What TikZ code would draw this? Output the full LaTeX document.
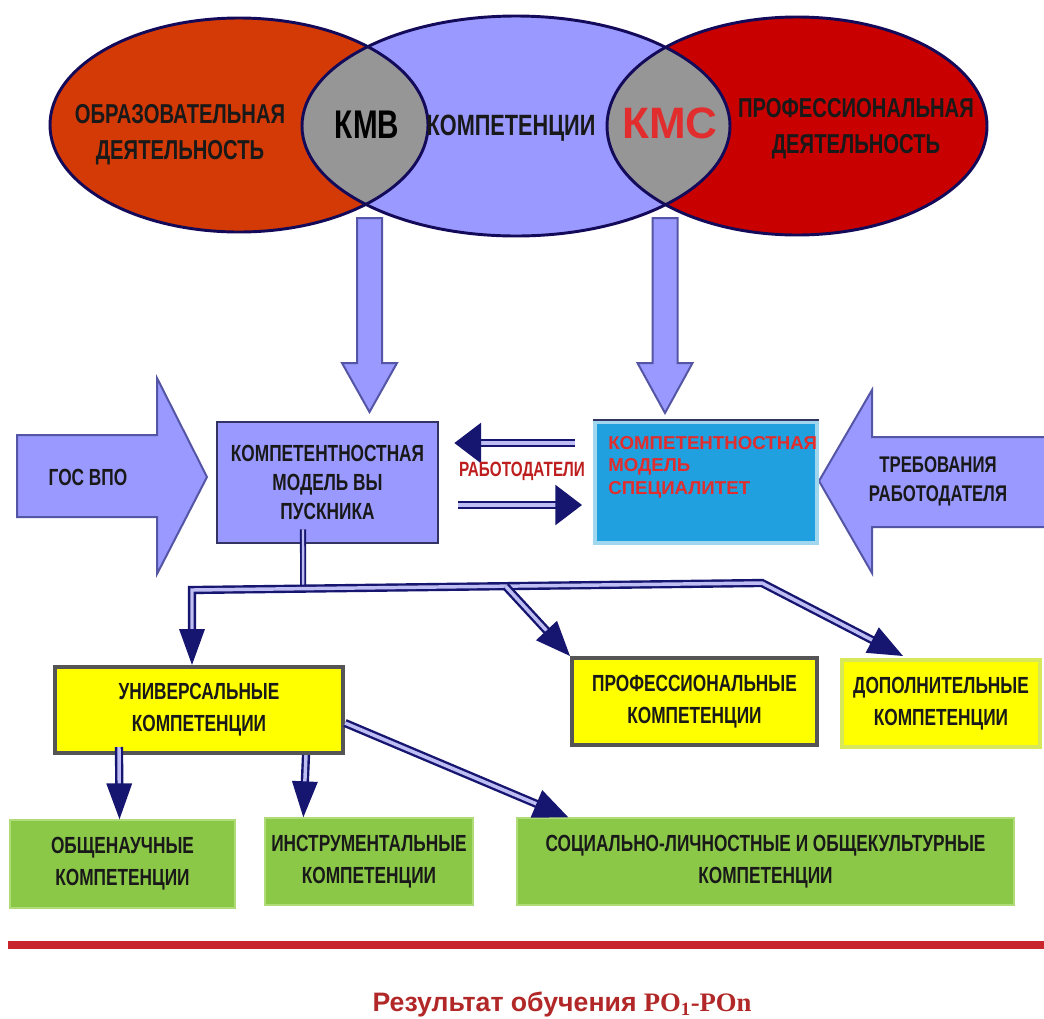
\documentclass[tikz,border=0pt]{standalone}
\usepackage{fontspec}
\setmainfont{Liberation Sans}
\newfontfamily\narrowsf{Liberation Sans}[FakeStretch=0.74]
\newfontfamily\poserif{Liberation Serif}
\usetikzlibrary{arrows.meta,calc}

\definecolor{navyc}{RGB}{22,22,112}
\definecolor{raillav}{RGB}{190,190,245}
\definecolor{lav}{RGB}{153,153,255}
\definecolor{lavedge}{RGB}{85,85,165}
\definecolor{eduorange}{RGB}{212,58,6}
\definecolor{prored}{RGB}{200,0,0}
\definecolor{lensgray}{RGB}{150,150,150}
\definecolor{ellline}{RGB}{20,10,90}
\definecolor{kmsblue}{RGB}{32,160,222}
\definecolor{kmsedge}{RGB}{160,215,238}
\definecolor{yelbox}{RGB}{255,255,0}
\definecolor{yeledge}{RGB}{85,85,85}
\definecolor{dopedge}{RGB}{215,232,90}
\definecolor{grbox}{RGB}{140,200,72}
\definecolor{gredge}{RGB}{175,220,120}
\definecolor{redrule}{RGB}{200,38,44}
\definecolor{txtdark}{RGB}{25,25,25}
\definecolor{rabred}{RGB}{190,30,30}
\definecolor{kmsred}{RGB}{225,45,45}
\definecolor{resred}{RGB}{178,40,40}

\tikzset{
	lbl/.style={font=\narrowsf\bfseries\fontsize{17.5}{24}\selectfont, text=txtdark, align=center, inner sep=0pt},
	kmvbox/.style={lbl, rectangle, fill=lav, draw=lavedge!60!black, line width=2pt, font=\narrowsf\bfseries\fontsize{17.5}{22}\selectfont},
	kmsbox/.style={rectangle, fill=kmsblue, draw=kmsedge, line width=3pt, inner sep=0pt},
	ybox/.style={lbl, rectangle, fill=yelbox, draw=yeledge, line width=3pt},
	gbox/.style={lbl, rectangle, fill=grbox, draw=gredge, line width=1pt},
	rail/.style={draw=navyc, double=raillav, double distance=2.6pt, line width=1.8pt},
	bigtip/.style={-{Triangle[length=20pt,width=30pt]}},
	longtip/.style={-{Triangle[length=27pt,width=19pt]}},
	blockarr/.style={fill=lav, draw=lavedge, line width=1.5pt, line join=miter},
	ellline/.style={draw=ellline, line width=2.2pt}
}

\begin{document}
\begin{tikzpicture}[x=0.75pt,y=-0.75pt]
	\useasboundingbox[fill=white] (0,0) rectangle (1044,1018);
	
	% three fields
	\fill[eduorange] (239,125) ellipse [x radius=189, y radius=107];
	\fill[prored]    (797,126) ellipse [x radius=190, y radius=109];
	\fill[lav]       (516,126) ellipse [x radius=214, y radius=110];
	\begin{scope}
		\clip (239,125) ellipse [x radius=189, y radius=107];
		\fill[lensgray] (516,126) ellipse [x radius=214, y radius=110];
	\end{scope}
	\begin{scope}
		\clip (797,126) ellipse [x radius=190, y radius=109];
		\fill[lensgray] (516,126) ellipse [x radius=214, y radius=110];
	\end{scope}
	\draw[ellline] (239,125) ellipse [x radius=189, y radius=107];
	\draw[ellline] (797,126) ellipse [x radius=190, y radius=109];
	\draw[ellline] (516,126) ellipse [x radius=214, y radius=110];
	
	\node[lbl, font=\narrowsf\bfseries\fontsize{20.5}{27}\selectfont] (obr) at (180,135) {ОБРАЗОВАТЕЛЬНАЯ\\ДЕЯТЕЛЬНОСТЬ};
	\node[lbl, font=\narrowsf\bfseries\fontsize{30}{30}\selectfont, text=black] (kmb) at (367,125) {КМВ};
	\node[lbl, font=\narrowsf\bfseries\fontsize{22}{22}\selectfont] (komp) at (511,128) {КОМПЕТЕНЦИИ};
	\node[lbl, font=\bfseries\fontsize{33}{33}\selectfont, text=kmsred] (kmc) at (670,123) {КМС};
	\node[lbl, font=\narrowsf\bfseries\fontsize{20.5}{27}\selectfont] (prof) at (856,129) {ПРОФЕССИОНАЛЬНАЯ\\ДЕЯТЕЛЬНОСТЬ};
	
	% block arrows
	\draw[blockarr] (357,218) -- (382,218) -- (382,363) -- (397,363) -- (369.5,412) -- (342,363) -- (357,363) -- cycle;
	\draw[blockarr] (652.5,218) -- (677.5,218) -- (677.5,363) -- (692.5,363) -- (665,413) -- (637.5,363) -- (652.5,363) -- cycle;
	\draw[blockarr] (17,435) -- (157,435) -- (157,378) -- (207,477) -- (157,574) -- (157,517) -- (17,517) -- cycle;
	\draw[blockarr] (1050,437) -- (872,437) -- (872,390) -- (819,481) -- (872,573) -- (872,527) -- (1050,527) -- cycle;
	
	\node[lbl] (gos) at (88,477) {ГОС ВПО};
	\node[lbl, font=\narrowsf\bfseries\fontsize{17}{22}\selectfont] (treb) at (938,481) {ТРЕБОВАНИЯ\\РАБОТОДАТЕЛЯ};
	
	% models
	\node[kmvbox, minimum width=165.75pt, minimum height=90.75pt] (kmv) at (327.5,482.5) {КОМПЕТЕНТНОСТНАЯ\\МОДЕЛЬ ВЫ\\ПУСКНИКА};
	\node[kmsbox, minimum width=166.5pt, minimum height=90.75pt] (kms) at (706,482.5) {};
	\draw[line width=2pt, draw=lavedge!60!black] (kms.north west) -- (kms.north east);
	\node[lbl, anchor=west, align=left, text=kmsred, font=\bfseries\fontsize{14}{16.8}\selectfont] (kmstext) at (608,467) {КОМПЕТЕНТНОСТНАЯ\\МОДЕЛЬ\\СПЕЦИАЛИТЕТ};
	
	\draw[rail, bigtip] ($(kms.west)+(-18,-39.5)$) -- ($(kmv.east)+(15,-39.5)$);
	\draw[rail, bigtip] ($(kmv.east)+(19,22.5)$) -- ($(kms.west)+(-11,22.5)$);
	\node[lbl, text=rabred, font=\narrowsf\bfseries\fontsize{15.5}{15.5}\selectfont] (rab) at (522,471) {РАБОТОДАТЕЛИ};
	
	% competences
	\node[ybox, minimum width=216pt, minimum height=64.5pt] (uni) at (199,710) {УНИВЕРСАЛЬНЫЕ\\КОМПЕТЕНЦИИ};
	\node[ybox, minimum width=183.75pt, minimum height=65.25pt] (pro) at (694.5,701.5) {ПРОФЕССИОНАЛЬНЫЕ\\КОМПЕТЕНЦИИ};
	\node[ybox, draw=dopedge, minimum width=148.5pt, minimum height=65.25pt] (dop) at (941,703.5) {ДОПОЛНИТЕЛЬНЫЕ\\КОМПЕТЕНЦИИ};
	
	\node[gbox, minimum width=168.75pt, minimum height=66pt] (obsh) at (122.5,864) {ОБЩЕНАУЧНЫЕ\\КОМПЕТЕНЦИИ};
	\node[gbox, minimum width=156pt, minimum height=65.25pt] (instr) at (369,861.5) {ИНСТРУМЕНТАЛЬНЫЕ\\КОМПЕТЕНЦИИ};
	\node[gbox, minimum width=372.75pt, minimum height=65.25pt] (soc) at (765.5,861.5) {СОЦИАЛЬНО-ЛИЧНОСТНЫЕ И ОБЩЕКУЛЬТУРНЫЕ\\КОМПЕТЕНЦИИ};
	
	% branching
	\coordinate (busL) at (192,590);
	\coordinate (busR) at (762,583);
	\coordinate (hub) at ($(busL)!0.195!(busR)$);
	\coordinate (split) at ($(busL)!0.55!(busR)$);
	
	\draw[rail, double distance=1.8pt, line width=1.4pt] ($(kmv.south)+(-24.5,-15)$) -- (hub);
	\draw[rail, {Triangle[length=27pt,width=19pt]}-{Triangle[length=26pt,width=21pt]}] (busL |- uni.north) -- (busL) -- (busR) -- ($(dop.north west)+(63,-2)$);
	\draw[rail, -{Triangle[length=26pt,width=21pt]}] (split) -- (pro.north west);
	
	\draw[rail, longtip] ($(uni.south)+(-80,-8)$) -- ($(obsh.north)+(-3,0)$);
	\draw[rail, longtip] ($(uni.south)+(107,0)$) -- ($(instr.north west)+(39,0)$);
	\draw[rail, -{Triangle[length=26pt,width=22pt]}] ($(uni.east)+(0,13)$) -- ($(soc.north west)+(52,0)$);
	
	% result
	\draw[redrule, line width=6pt] (8,945) -- (1044,945);
	\node[inner sep=0pt, text=resred, font=\bfseries\fontsize{20}{20}\selectfont] (res) at (562,1004) {Результат обучения {\poserif РО\textsubscript{1}-РОn}};
\end{tikzpicture}
\end{document}
